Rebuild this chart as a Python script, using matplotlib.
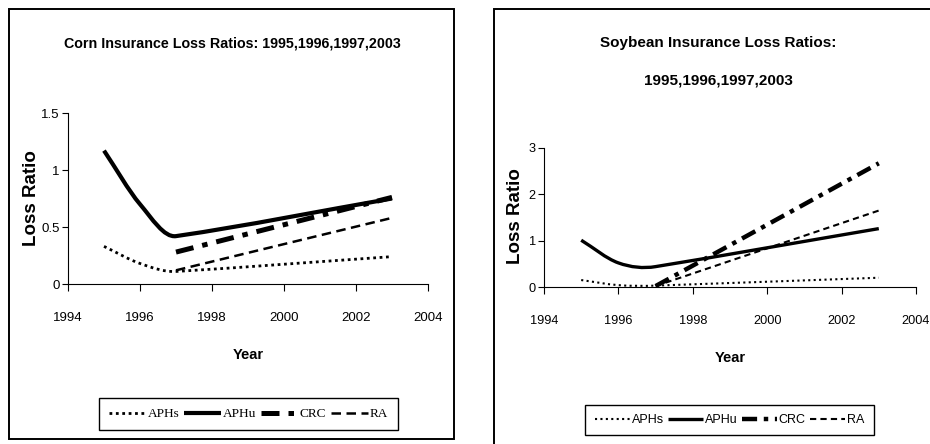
import numpy as np
import matplotlib
matplotlib.use("Agg")
from matplotlib import pyplot as plt
from matplotlib.path import Path
from matplotlib.patches import PathPatch, Rectangle
from matplotlib.lines import Line2D

# data
years = [1995, 1996, 1997, 2003]
late_years = [1997, 2003]

corn_aphs = [0.33, 0.18, 0.11, 0.24]
corn_aphu = [1.17, 0.70, 0.42, 0.75]
corn_crc = [0.28, 0.76]
corn_ra = [0.12, 0.58]

soy_aphs = [0.15, 0.04, 0.03, 0.20]
soy_aphu = [1.01, 0.52, 0.44, 1.26]
soy_crc = [0.02, 2.67]
soy_ra = [0.02, 1.65]

series_names = ["APHs", "APHu", "CRC", "RA"]

SANS = ["Liberation Sans", "DejaVu Sans"]
W, H = 930, 444


def smooth_path(x, y):
    """Smoothed line like the spreadsheet one: cubic hermite pieces as beziers."""
    x = np.asarray(x, float)
    y = np.asarray(y, float)
    n = len(x)
    h = np.diff(x)
    sec = np.diff(y) / h
    m = np.empty(n)
    m[0], m[-1] = sec[0], sec[-1]
    # interior slopes lean towards the longer neighbouring interval
    for i in range(1, n - 1):
        w1, w2 = h[i - 1] ** 2, h[i] ** 2
        m[i] = (w1 * sec[i - 1] + w2 * sec[i]) / (w1 + w2)
    verts = [(x[0], y[0])]
    codes = [Path.MOVETO]
    for i in range(n - 1):
        verts += [(x[i] + h[i] / 3, y[i] + m[i] * h[i] / 3),
                  (x[i + 1] - h[i] / 3, y[i + 1] - m[i + 1] * h[i] / 3),
                  (x[i + 1], y[i + 1])]
        codes += [Path.CURVE4] * 3
    return Path(verts, codes)


def fx(px):
    return px / W


def fy(py):
    return 1 - py / H


def draw_panel(fig, rect, ymax, yticks, data, styles, legend_center,
               legend_font, label_pos, ticksize):
    ax = fig.add_axes(rect)
    for (xs, ys), st in zip(data, styles):
        ax.add_patch(PathPatch(smooth_path(xs, ys), fill=False, color="black",
                               capstyle="butt", joinstyle="round", **st))
    ax.set_xlim(1994, 2004)
    ax.set_ylim(0, ymax)
    ax.set_xticks(range(1994, 2005, 2))
    ax.set_yticks(yticks)
    ax.set_yticklabels([f"{v:g}" for v in yticks])
    for s in ["top", "right"]:
        ax.spines[s].set_visible(False)
    for s in ["left", "bottom"]:
        ax.spines[s].set_linewidth(0.8)
    ax.tick_params(axis="x", direction="out", length=5, width=0.8, pad=15,
                   labelsize=ticksize)
    ax.tick_params(axis="y", direction="out", length=4, width=0.8, pad=2,
                   labelsize=ticksize)
    for lab in ax.get_xticklabels() + ax.get_yticklabels():
        lab.set_family(SANS)
    ax.patch.set_alpha(0)

    handles = [Line2D([], [], color="black", solid_capstyle="butt",
                      dash_capstyle="butt", **st) for st in styles]
    leg = ax.legend(handles, series_names, loc="center", ncol=4,
                    bbox_to_anchor=legend_center, bbox_transform=fig.transFigure,
                    frameon=True, fancybox=False, framealpha=1, edgecolor="black",
                    prop=legend_font, handlelength=2.8, handletextpad=0.15,
                    columnspacing=0.35, borderpad=0.75, borderaxespad=0)
    leg.get_frame().set_linewidth(1.0)

    lx, ly, yx, yy = label_pos
    fig.text(fx(lx), fy(ly), "Loss Ratio", rotation=90, ha="center",
             va="center", family=SANS, weight="bold", fontsize=13.5)
    fig.text(fx(yx), fy(yy), "Year", ha="center", va="center",
             family=SANS, weight="bold", fontsize=10.5)
    return ax


fig = plt.figure(figsize=(W / 100, H / 100), dpi=100)

# panel frames
fig.patches.append(Rectangle((fx(9), fy(439)), fx(454) - fx(9), fy(9) - fy(439),
                             transform=fig.transFigure, fill=False, lw=1.4,
                             color="black"))
fig.patches.append(Rectangle((fx(494), fy(470)), fx(980) - fx(494), fy(9) - fy(470),
                             transform=fig.transFigure, fill=False, lw=1.4,
                             color="black", clip_on=False))

corn_styles = [
    dict(linewidth=2.0, linestyle=(0, (1.0, 1.3))),
    dict(linewidth=3.0, linestyle="-"),
    dict(linewidth=3.6, linestyle=(0, (3.6, 1.8, 1.1, 1.8))),
    dict(linewidth=1.8, linestyle=(0, (3.8, 2.2))),
]
soy_styles = [
    dict(linewidth=1.5, linestyle=(0, (1.0, 1.6))),
    dict(linewidth=2.4, linestyle="-"),
    dict(linewidth=3.2, linestyle=(0, (3.4, 1.5, 1.0, 1.5))),
    dict(linewidth=1.5, linestyle=(0, (3.0, 2.0))),
]

draw_panel(
    fig,
    [fx(68), fy(284), fx(428) - fx(68), fy(113) - fy(284)],
    1.5, [0, 0.5, 1, 1.5],
    [(years, corn_aphs), (years, corn_aphu), (late_years, corn_crc),
     (late_years, corn_ra)],
    corn_styles,
    (fx(248.5), fy(414)),
    dict(family=["Liberation Serif", "DejaVu Serif"], size=9.5),
    (31, 198, 248, 355),
    9.5,
)
fig.text(fx(232), fy(43), "Corn Insurance Loss Ratios: 1995,1996,1997,2003",
         ha="center", va="center", family=SANS, weight="bold", fontsize=10.3)

draw_panel(
    fig,
    [fx(544), fy(287), fx(916) - fx(544), fy(148) - fy(287)],
    3, [0, 1, 2, 3],
    [(years, soy_aphs), (years, soy_aphu), (late_years, soy_crc),
     (late_years, soy_ra)],
    soy_styles,
    (fx(729.5), fy(420)),
    dict(family=SANS, size=9),
    (515.5, 216, 730, 358),
    9.2,
)
fig.text(fx(718), fy(61.5), "Soybean Insurance Loss Ratios:\n1995,1996,1997,2003",
         ha="center", va="center", family=SANS, weight="bold", fontsize=11,
         linespacing=3.1)

fig.savefig("out.png", dpi=100)
plt.close(fig)
